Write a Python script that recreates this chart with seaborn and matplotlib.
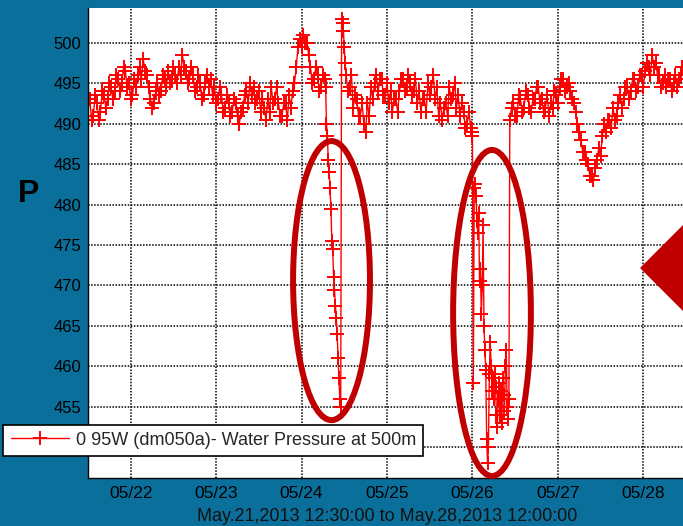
import numpy as np
import pandas as pd
import seaborn as sns
import matplotlib.pyplot as plt
import matplotlib.dates as mdates
import matplotlib.ticker as ticker
from matplotlib.patches import Ellipse, Polygon

# water pressure readings (dm050a, 500m)
t0 = '2013-05-21 12:30'

# half-hourly readings, 05/21 12:30 -> 05/24 06:30
seg1_start_h, seg1_step_h = 0, 0.5
seg1_vals = [493, 490.5, 491, 493.5, 492.5, 490.5, 491.5, 494, 493.5, 492,
             493, 495, 494.5, 493, 494, 496, 495.5, 494, 495, 497,
             496.5, 494.5, 495, 493, 493.5, 495.5, 494.5, 496, 497, 495.5,
             498, 496.5, 496, 494.5, 493, 492, 492.5, 494, 495, 493.5,
             494, 496, 495.5, 494.5, 496.5, 495, 495.5, 497, 496, 495,
             497, 496, 498.5, 497, 496.5, 495, 495.5, 497, 496, 494,
             494.5, 496, 495, 493, 493.5, 495, 496, 494.5, 495.5, 493.5,
             494.5, 492.5, 493, 494.5, 493.5, 491.5, 492, 493.5, 492.5, 491,
             491.5, 493, 492.5, 491, 490, 491.5, 492, 493.5, 494, 492.5,
             495, 493.5, 494.5, 492.5, 493, 494, 491.5, 493, 492, 490.5,
             493, 491.5, 494.5, 492.5, 493, 494.5, 492.5, 491, 491, 492.5,
             492.5, 490.5, 493.5, 492, 494, 495, 497, 499.5, 500.5, 499.5,
             501, 500, 500, 498.5, 497, 495, 495.5, 497, 496, 494,
             494.5, 496, 495.5]

# first event, 15 min readings
drop1_start_h, drop1_step_h = 66.25, 0.25
drop1_vals = [494.5, 490, 488.5, 485.5, 484, 482, 479.5, 475.5, 474.5, 471,
              469.5, 467.5, 466, 464, 461, 458.5, 456, 455, 503, 502.5,
              501.5, 499.5, 497.5]

seg2_start_h, seg2_step_h = 72, 0.5
seg2_vals = [496, 494, 494.5, 496, 492, 493.5, 493, 491, 491, 492.5,
             490, 489, 492.5, 491, 494.5, 493, 495, 496, 494, 495.5,
             495.5, 493.5, 493.5, 495, 492.5, 494, 491.5, 493, 493, 491.5,
             494, 495.5, 495.5, 494, 494.5, 496, 495, 493.5, 494, 495.5,
             492.5, 494, 491.5, 493, 493, 491.5, 495, 493.5, 494.5, 496,
             493, 494.5, 491, 492.5, 490.5, 492, 492.5, 491, 494.5, 493,
             493.5, 495, 492, 493.5, 491, 492.5, 491.5, 489.5, 490, 491.5,
             489.5]

# second event, 15 min readings
drop2_start_h, drop2_step_h = 107.25, 0.25
drop2_vals = [489, 488.5, 458, 482, 482.5, 481, 478, 476.5, 479, 470.5,
              472, 466.5, 470, 477.5, 465, 462, 459.5, 451, 448, 450,
              459, 463, 460, 457, 458.5, 456, 459, 457.5, 454, 452.5,
              456, 458, 454, 457, 453, 458.5, 456.5, 454.5, 460, 462,
              455, 453.5, 456]

seg3_start_h, seg3_step_h = 118, 0.5
seg3_vals = [490.5, 492, 492.5, 491, 491, 493.5, 493, 491.5, 492, 494,
             493.5, 492, 491.5, 493, 493, 494.5, 494.5, 492.5, 493, 491.5,
             492, 493.5, 491, 492.5, 492, 494, 493.5, 492.5, 494.5, 495.5,
             495.5, 494, 494.5, 495, 494, 493, 492.5, 491.5, 490, 489,
             488, 486.5, 486.5, 485.5, 485, 483.5, 483.5, 483, 484.5, 485.5,
             487, 486, 488.5, 490, 489, 490.5, 490.5, 489.5, 492, 490.5,
             491, 492.5, 493.5, 492, 493, 494.5, 494.5, 493, 494, 495.5,
             495.5, 494, 494.5, 496, 496, 494.5, 496.5, 497.5, 497, 496,
             498.5, 497, 497.5, 496, 496, 494.5, 495, 496, 494.5, 495.5,
             495.5, 494, 495, 496, 494.5, 495.5, 496, 497, 497]

# highlighted events (center time, center value, width in days, height)
ell_centers = ['2013-05-24 08:25', '2013-05-26 05:30']
ell_values = [470.6, 466.6]
ell_widths = [0.90, 0.91]
ell_heights = [34.5, 40.3]

y_ticks = [450, 455, 460, 465, 470, 475, 480, 485, 490, 495, 500]
# the 450 label sits under the legend in the original
y_ticklabels = ['', '455', '460', '465', '470', '475', '480', '485', '490', '495', '500']

legend_label = '0 95W (dm050a)- Water Pressure at 500m'
x_title = 'May.21,2013 12:30:00 to May.28,2013 12:00:00'

BG = '#0a6f9b'
DARK_RED = '#c00000'


def build_frame():
    parts = []
    segs = [(seg1_start_h, seg1_step_h, seg1_vals),
            (drop1_start_h, drop1_step_h, drop1_vals),
            (seg2_start_h, seg2_step_h, seg2_vals),
            (drop2_start_h, drop2_step_h, drop2_vals),
            (seg3_start_h, seg3_step_h, seg3_vals)]
    for start, step, vals in segs:
        hrs = start + step * np.arange(len(vals))
        parts.append(pd.DataFrame({'time': pd.Timestamp(t0) + pd.to_timedelta(hrs, unit='h'),
                                   'pressure': vals}))
    return pd.concat(parts, ignore_index=True)


df = build_frame()

sns.set_style('white')
plt.rcParams['font.family'] = ['Liberation Sans', 'DejaVu Sans']

W, H = 683, 526
fig = plt.figure(figsize=(W / 100, H / 100), dpi=100, facecolor=BG)
ax = fig.add_axes([88 / W, 1 - 478 / H, 598 / W, 470 / H])
ax.set_facecolor('white')

sns.lineplot(data=df, x='time', y='pressure', ax=ax, sort=False, estimator=None,
             color='#ff0000', lw=1.0, marker='+', markersize=10, mew=1.4,
             mec='#ff0000', label=legend_label, legend=False)

for c, v, w, h in zip(ell_centers, ell_values, ell_widths, ell_heights):
    e = Ellipse((mdates.date2num(pd.Timestamp(c)), v), w, h, fill=False,
                edgecolor=DARK_RED, lw=4.3, zorder=5, clip_on=False)
    ax.add_patch(e)

ax.set_xlim(pd.Timestamp('2013-05-21 12:00'), pd.Timestamp('2013-05-28 12:00'))
ax.set_ylim(446.2, 504.3)
ax.xaxis.set_major_locator(mdates.DayLocator())
ax.xaxis.set_major_formatter(mdates.DateFormatter('%m/%d'))
ax.set_yticks(y_ticks)
ax.set_yticklabels(y_ticklabels)

ax.grid(True, color='black', linestyle=(0, (1, 1)), lw=1.1)
ax.tick_params(direction='in', length=7, width=1, color='black',
               labelcolor='black', pad=5)
ax.tick_params(axis='x', labelsize=12.5, pad=6)
ax.tick_params(axis='y', labelsize=12)
for s in ['top', 'right']:
    ax.spines[s].set_visible(False)
for s in ['left', 'bottom']:
    ax.spines[s].set_color('black')
    ax.spines[s].set_linewidth(1.0)

ax.set_ylabel('')
ax.set_xlabel(x_title, fontsize=13, color='#111111', labelpad=5)

fig.text(29 / W, 1 - 194 / H, 'P', fontsize=23, fontweight='bold',
         ha='center', va='center', color='black')

handles, labels = ax.get_legend_handles_labels()
leg = fig.legend(handles, labels, loc='lower left',
                 bbox_to_anchor=(3.5 / W, 1 - 456 / H), borderaxespad=0,
                 fontsize=13, frameon=True, fancybox=False, framealpha=1,
                 edgecolor='black', handlelength=3.2, handletextpad=0.4,
                 borderpad=0.4)
leg.get_frame().set_linewidth(1.2)

# pointer diamond at the right edge
dx, dy = 43 / W, 43 / H
cx, cy = 683 / W, 1 - 268 / H
fig.patches.append(Polygon([(cx - dx, cy), (cx, cy + dy), (cx + dx, cy), (cx, cy - dy)],
                           closed=True, transform=fig.transFigure,
                           facecolor=DARK_RED, edgecolor='none', zorder=10))

fig.savefig('out.png', dpi=100, facecolor=BG)
